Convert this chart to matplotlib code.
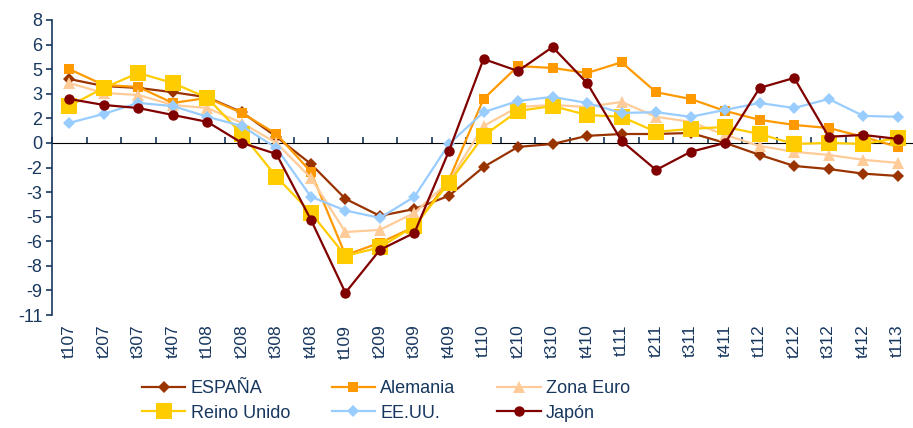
import numpy as np
import matplotlib
matplotlib.use("Agg")
import matplotlib.pyplot as plt

plt.rcParams['font.family'] = ['Liberation Sans', 'DejaVu Sans']

# datos del grafico
trimestres = ['t107', 't207', 't307', 't407', 't108', 't208', 't308', 't408',
              't109', 't209', 't309', 't409', 't110', 't210', 't310', 't410',
              't111', 't211', 't311', 't411', 't112', 't212', 't312', 't412', 't113']

espana = [4.16, 3.7, 3.58, 3.3, 2.97, 2.0, 0.4, -1.37,
          -3.64, -4.75, -4.3, -3.44, -1.57, -0.26, -0.07, 0.46,
          0.58, 0.58, 0.65, 0.0, -0.78, -1.5, -1.7, -2.0, -2.15]
alemania = [4.8, 3.77, 3.64, 2.6, 2.93, 1.95, 0.58, -1.88,
            -7.3, -6.5, -5.46, -2.4, 2.86, 5.0, 4.88, 4.55,
            5.25, 3.3, 2.86, 2.08, 1.5, 1.17, 0.97, 0.4, -0.26]
zona_euro = [3.9, 3.25, 3.12, 2.47, 2.27, 1.3, 0.0, -2.28,
             -5.8, -5.66, -4.55, -2.5, 1.1, 2.34, 2.47, 2.34,
             2.67, 1.7, 1.37, 0.52, -0.2, -0.58, -0.78, -1.1, -1.3]
reino_unido = [2.4, 3.58, 4.55, 3.9, 2.93, 0.58, -2.2, -4.55,
               -7.35, -6.8, -5.4, -2.6, 0.46, 2.08, 2.4, 1.82,
               1.7, 0.72, 0.91, 1.04, 0.58, -0.07, 0.0, -0.07, 0.32]
eeuu = [1.3, 1.89, 2.6, 2.4, 1.7, 1.1, -0.33, -3.5,
        -4.4, -4.88, -3.5, -0.07, 2.0, 2.73, 3.0, 2.6,
        1.95, 2.0, 1.7, 2.15, 2.6, 2.27, 2.86, 1.76, 1.7]
japon = [2.86, 2.47, 2.27, 1.82, 1.37, 0.0, -0.72, -5.0,
         -9.75, -6.96, -5.85, -0.52, 5.46, 4.68, 6.24, 3.9,
         0.13, -1.76, -0.58, 0.0, 3.58, 4.23, 0.4, 0.52, 0.26]

y_ticks = [8, 6.4, 4.8, 3.2, 1.6, 0, -1.6, -3.2, -4.8, -6.4, -8, -9.6, -11.2]
y_labels = ['8', '6', '5', '3', '2', '0', '-2', '-3', '-5', '-6', '-8', '-9', '-11']

navy = '#17375e'

series = [
    ('ESPAÑA', espana, '#993300', 'D', 6.5),
    ('Alemania', alemania, '#ff9900', 's', 7),
    ('Zona Euro', zona_euro, '#ffcc99', '^', 8),
    ('Reino Unido', reino_unido, '#ffcc00', 's', 11),
    ('EE.UU.', eeuu, '#99ccff', 'D', 6.5),
    ('Japón', japon, '#800000', 'o', 7.5),
]

fig = plt.figure(figsize=(9.13, 4.28), dpi=100)
ax = fig.add_axes([52 / 913, 1 - 315 / 428, 863 / 913, 295 / 428])

x = np.arange(len(trimestres))
lineas = {}
for nombre, valores, color, marcador, tam in series:
    l, = ax.plot(x, valores, color=color, lw=1.6, marker=marcador, ms=tam,
                 markeredgewidth=0, label=nombre, clip_on=False)
    lineas[nombre] = l

ax.set_xlim(-0.5, len(trimestres) - 0.5)
ax.set_ylim(-11.2, 8)
ax.set_yticks(y_ticks)
ax.set_yticklabels(y_labels)
ax.tick_params(axis='y', colors=navy, labelsize=13, length=4, width=1.2, pad=3)

ax.set_xticks(x)
ax.set_xticklabels(trimestres, rotation=90, color=navy, fontsize=12.5)
ax.tick_params(axis='x', length=0, pad=7)

for lado in ['top', 'right', 'bottom']:
    ax.spines[lado].set_visible(False)
ax.spines['left'].set_color(navy)
ax.spines['left'].set_linewidth(1.2)

# eje del cero con marcas entre trimestres
pos_cero = 11.2 / 19.2
eje0 = ax.secondary_xaxis(pos_cero)
eje0.set_xticks(np.arange(-0.5, len(trimestres), 1.0))
eje0.set_xticklabels([])
eje0.tick_params(direction='out', length=4, width=1.2, colors=navy)
eje0.spines['bottom'].set_color(navy)
eje0.spines['bottom'].set_linewidth(1.2)
ax.set_zorder(2)

orden = ['ESPAÑA', 'Reino Unido', 'Alemania', 'EE.UU.', 'Zona Euro', 'Japón']
fig.legend([lineas[n] for n in orden], orden, ncol=3, loc='center left',
           bbox_to_anchor=(142 / 913, 1 - 401 / 428), frameon=False,
           fontsize=13, labelcolor=navy, handlelength=2.4, handletextpad=0.3,
           columnspacing=2.3, labelspacing=0.4, borderpad=0, borderaxespad=0)

fig.savefig('out.png', dpi=100)
